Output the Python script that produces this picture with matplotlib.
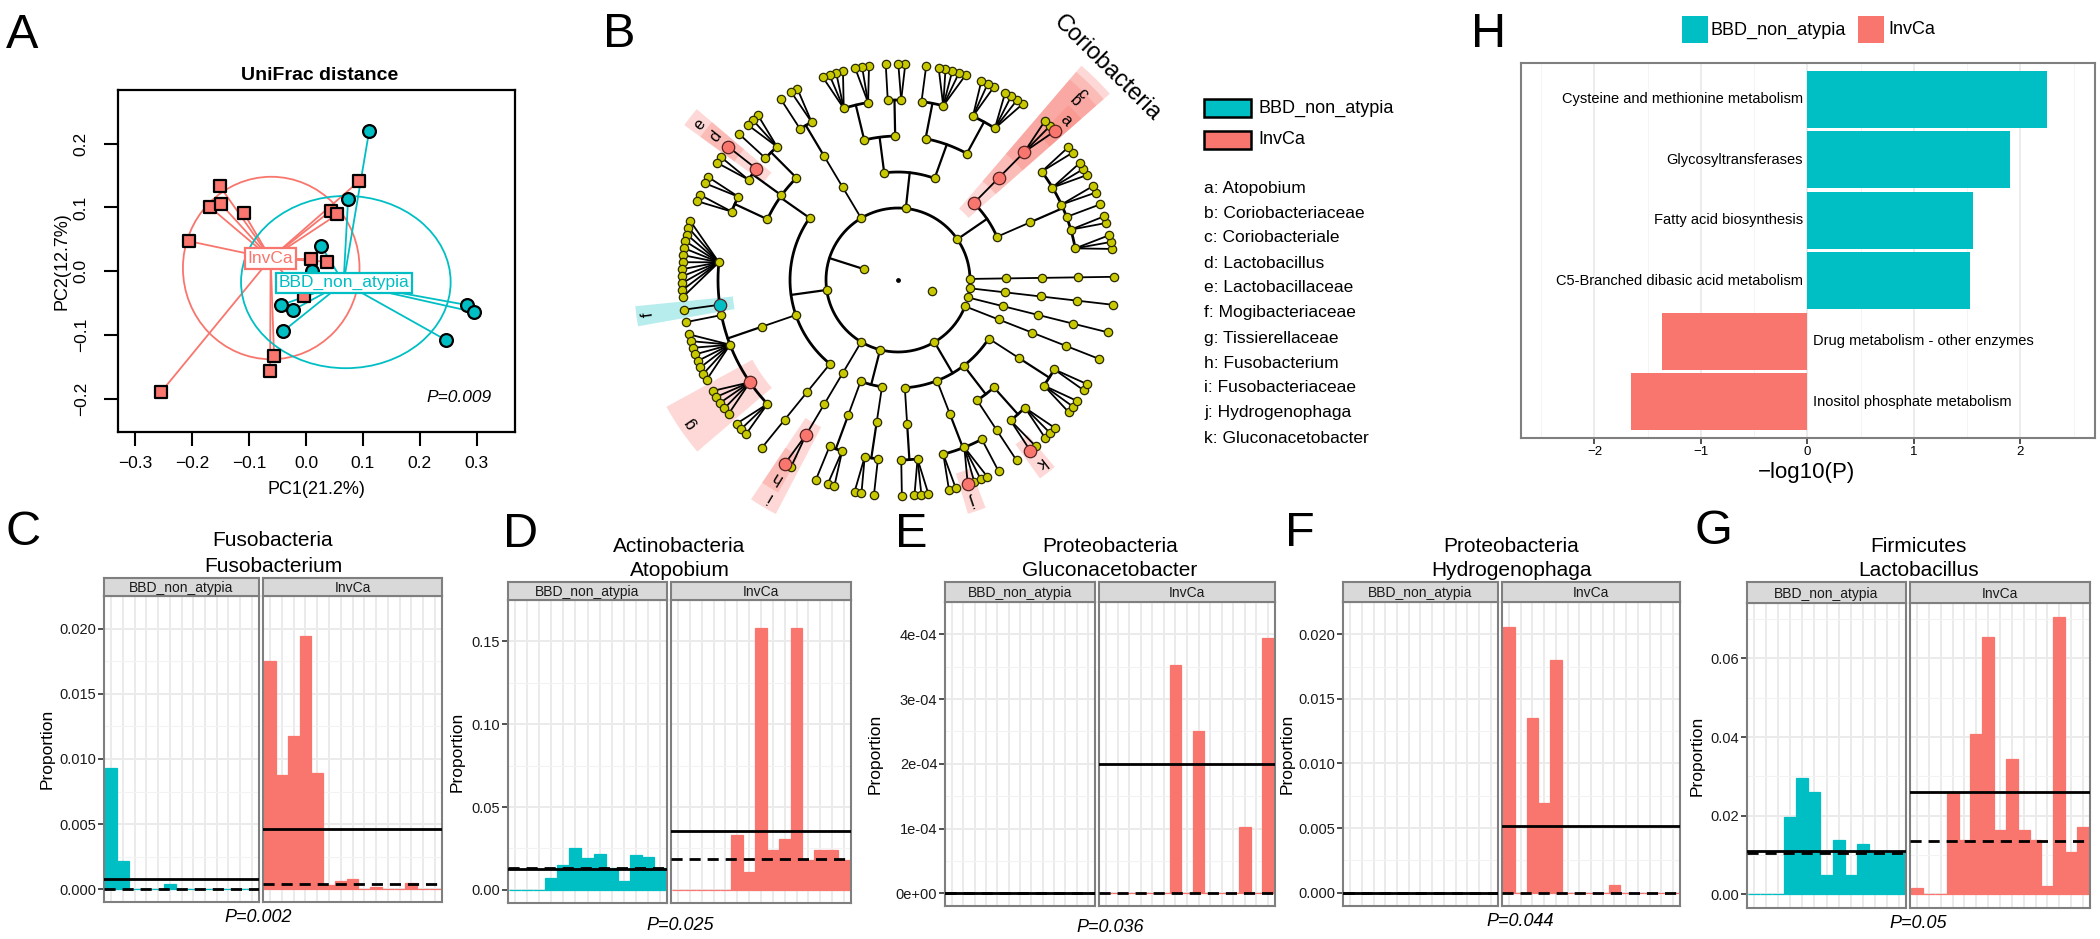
import numpy as np
import matplotlib.pyplot as plt
from matplotlib.patches import Ellipse, Wedge, Rectangle

plt.rcParams['font.family'] = ['Liberation Sans', 'DejaVu Sans']

W, H = 2100, 939
RED = '#F8766D'
TEAL = '#00BFC4'
GRID = '#EBEBEB'
BORDER = '#7F7F7F'

# ---------------- A: PCoA, UniFrac distance
inv_pc1 = [-0.254, -0.205, -0.168, -0.151, -0.149, -0.109, 0.093, 0.044, 0.055, 0.008, 0.037, -0.004, -0.056, -0.063]
inv_pc2 = [-0.189, 0.047, 0.100, 0.133, 0.105, 0.091, 0.141, 0.095, 0.089, 0.019, 0.015, -0.039, -0.133, -0.156]
bbd_pc1 = [0.111, 0.074, 0.027, -0.043, -0.023, -0.040, 0.283, 0.295, 0.246, 0.011]
bbd_pc2 = [0.220, 0.113, 0.039, -0.053, -0.061, -0.094, -0.053, -0.064, -0.108, 0.000]
centroids = {'InvCa': (-0.062, 0.020), 'BBD_non_atypia': (0.066, -0.018)}
ellipses = {'InvCa': (-0.061, 0.005, 0.310, 0.286), 'BBD_non_atypia': (0.070, -0.017, 0.368, 0.270)}

# ---------------- B: cladogram (phylum -> class -> order -> family = number of genera)
clado_tree = [
    [[[1]]],
    [[[1]]],
    [[[1]]],
    [[[3, 2, 1, 2, 3, 2]], [[3]]],                        # Actinobacteria
    [[[4, 3], [5, 1]], [[2, 1], [3, 4]]],                 # Bacteroidetes
    [[[2, 1]]],
    [[[3, 1], [1, 2], [2, 2]], [[12, 1, 1, 8, 5, 3]], [[1]]],   # Firmicutes
    [[[2]]],                                              # Fusobacteria
    [[[1, 2]], [[2, 1]]],
    [[[1, 3]], [[2, 4, 1]], [[1], [2, 3]], [[3, 2]]],     # Proteobacteria
    [[[1]]],
]
# letter, path in tree, enriched group
highlights = [
    ('Coriobacteria', (3, 1), 'InvCa'),
    ('c', (3, 1, 0), 'InvCa'),
    ('b', (3, 1, 0, 0), 'InvCa'),
    ('a', (3, 1, 0, 0, 0), 'InvCa'),
    ('e', (6, 0, 1, 0), 'InvCa'),
    ('d', (6, 0, 1, 0, 0), 'InvCa'),
    ('f', (6, 1, 0, 1), 'BBD_non_atypia'),
    ('g', (6, 1, 0, 4), 'InvCa'),
    ('i', (7, 0, 0, 0), 'InvCa'),
    ('h', (7, 0, 0, 0, 0), 'InvCa'),
    ('j', (9, 1, 0, 1, 0), 'InvCa'),
    ('k', (9, 2, 1, 0, 0), 'InvCa'),
]
clado_keys = ['a: Atopobium', 'b: Coriobacteriaceae', 'c: Coriobacteriale', 'd: Lactobacillus',
              'e: Lactobacillaceae', 'f: Mogibacteriaceae', 'g: Tissierellaceae', 'h: Fusobacterium',
              'i: Fusobacteriaceae', 'j: Hydrogenophaga', 'k: Gluconacetobacter']

# ---------------- C-G: relative abundance per sample
c_bbd = [0.0093, 0.0022, 0, 0, 0, 0.0004, 0, 0, 0, 0, 0, 0, 0]
c_inv = [0.0175, 0.0088, 0.0118, 0.0194, 0.0089, 0.0003, 0.00066, 0.0008, 0.00005, 0.0002,
         0.00005, 0.00005, 0.0005, 0.00005, 0.00005]
d_bbd = [0, 0, 0, 0.0073, 0.0149, 0.0254, 0.019, 0.0214, 0.0135, 0.0053, 0.0212, 0.020, 0.0135]
d_inv = [0, 0, 0, 0, 0, 0.033, 0.011, 0.158, 0.024, 0.0305, 0.158, 0.018, 0.024, 0.024, 0.018]
e_bbd = [0] * 13
e_inv = [0, 0, 0, 0, 0, 0, 3.52e-4, 0, 2.5e-4, 0, 0, 0, 1.03e-4, 0, 3.94e-4]
f_bbd = [0] * 13
f_inv = [0.0206, 0, 0.01356, 0.00694, 0.0180, 0, 0, 0, 0, 0.00057, 0, 0, 0, 0, 0]
g_bbd = [0, 0, 0, 0.0197, 0.0295, 0.0261, 0.00485, 0.0138, 0.00485, 0.0127, 0.0104, 0.0104, 0.0104]
g_inv = [0.00145, 0.0001, 0.0001, 0.0259, 0.0138, 0.0408, 0.0654, 0.0163, 0.0344, 0.0163,
         0.0138, 0.0021, 0.0706, 0.0108, 0.0172]
# (BBD, InvCa) mean and median lines
c_mean, c_median = (0.00082, 0.00465), (0.0, 0.0004)
d_mean, d_median = (0.0124, 0.0355), (0.0134, 0.0187)
e_mean, e_median = (0.0, 2.0e-4), (0.0, 0.0)
f_mean, f_median = (0.0, 0.00513), (0.0, 0.0)
g_mean, g_median = (0.0111, 0.026), (0.0106, 0.0136)

# ---------------- H: KEGG pathways
h_paths = ['Cysteine and methionine metabolism', 'Glycosyltransferases', 'Fatty acid biosynthesis',
           'C5-Branched dibasic acid metabolism', 'Drug metabolism - other enzymes',
           'Inositol phosphate metabolism']
h_logp = [2.25, 1.90, 1.55, 1.53, -1.37, -1.66]

fig = plt.figure(figsize=(W / 100, H / 100), dpi=100)


def px_axes(x0, y0, x1, y1):
    return fig.add_axes([x0 / W, 1 - y1 / H, (x1 - x0) / W, (y1 - y0) / H])


def ftext(x, y, s, **kw):
    fig.text(x / W, 1 - y / H, s, **kw)


def frect(x0, y0, x1, y1, **kw):
    fig.add_artist(Rectangle((x0 / W, 1 - y1 / H), (x1 - x0) / W, (y1 - y0) / H,
                             transform=fig.transFigure, **kw))


def letter(x, y, s):
    ftext(x, y, s, fontsize=35, ha='center', va='baseline')


# ======== A
ax = px_axes(118, 90, 515, 432)
groups = [('InvCa', inv_pc1, inv_pc2, RED, 's', 75), ('BBD_non_atypia', bbd_pc1, bbd_pc2, TEAL, 'o', 85)]
for grp, xs, ys, col, mk, sz in groups:
    cx, cy = centroids[grp]
    for x, y in zip(xs, ys):
        ax.plot([cx, x], [cy, y], color=col, lw=1.3, zorder=2)
    ex, ey, ew, eh = ellipses[grp]
    ax.add_patch(Ellipse((ex, ey), ew, eh, fill=False, ec=col, lw=1.3, zorder=2))
for grp, xs, ys, col, mk, sz in groups:
    ax.scatter(xs, ys, marker=mk, s=sz, c=col, edgecolors='black', linewidths=1.6, zorder=3)
for grp, xs, ys, col, mk, sz in groups:
    cx, cy = centroids[grp]
    ax.text(cx, cy, grp, color=col, fontsize=12.5, ha='center', va='center', zorder=5,
            bbox=dict(boxstyle='square,pad=0.15', fc='white', ec=col, lw=1.6))
ax.set_xlim(-0.33, 0.367)
ax.set_ylim(-0.252, 0.284)
ax.set_xticks([-0.3, -0.2, -0.1, 0.0, 0.1, 0.2, 0.3])
ax.set_yticks([-0.2, -0.1, 0.0, 0.1, 0.2])
ax.set_xticklabels(['\u22120.3', '\u22120.2', '\u22120.1', '0.0', '0.1', '0.2', '0.3'])
ax.set_yticklabels(['\u22120.2', '\u22120.1', '0.0', '0.1', '0.2'], rotation=90, va='center')
ax.tick_params(direction='out', length=10, width=1.5, labelsize=12.5, pad=7)
ax.tick_params(axis='y', pad=11)
for s in ax.spines.values():
    s.set_linewidth(1.6)
ax.text(0.326, -0.198, 'P=0.009', style='italic', fontsize=12.5, ha='right', va='center')
ftext(320, 76, 'UniFrac distance', fontsize=14, fontweight='bold', ha='center', va='center')
ftext(316, 489, 'PC1(21.2%)', fontsize=13, ha='center', va='center')
ftext(62, 261, 'PC2(12.7%)', fontsize=13, ha='center', va='center', rotation=90)
letter(22, 48, 'A')

# ======== B: cladogram
R = [0, 36, 72, 108, 144, 180, 216]
gap_units = [4.0, 3.0, 2.4, 1.8, 1.0]   # by shared path length between neighbouring leaves
leaves = []
nodes = {}


def build(item, level, path):
    if level == 6:
        kids = []
    elif level == 5:
        kids = [build(None, 6, path + (i,)) for i in range(item)]
    else:
        kids = [build(k, level + 1, path + (i,)) for i, k in enumerate(item)]
    node = {'level': level, 'path': path, 'kids': kids}
    if not kids:
        node['leaf'] = len(leaves)
        leaves.append(path)
    nodes[path] = node
    return node


root = build(clado_tree, 1, ())


def shared(a, b):
    n = 0
    for u, v in zip(a, b):
        if u != v:
            break
        n += 1
    return n


pos = [0.0]
for p0, p1 in zip(leaves[:-1], leaves[1:]):
    pos.append(pos[-1] + gap_units[min(shared(p0, p1), 4)])
total = pos[-1] + gap_units[0]
leaf_ang = [-14 + 360 * p / total for p in pos]


def set_angles(node):
    if 'leaf' in node:
        node['ang'] = node['a0'] = node['a1'] = leaf_ang[node['leaf']]
    else:
        for k in node['kids']:
            set_angles(k)
        node['ang'] = 0.5 * (node['kids'][0]['ang'] + node['kids'][-1]['ang'])
        node['a0'] = node['kids'][0]['a0']
        node['a1'] = node['kids'][-1]['a1']


set_angles(root)

axb = px_axes(598, 0, 1198, 540)
axb.set_xlim(-300, 300)
axb.set_ylim(-260, 280)
axb.axis('off')


def pol(r, t):
    return r * np.cos(np.radians(t)), r * np.sin(np.radians(t))


dots = []


def draw(node):
    r, t = R[node['level']], node['ang']
    kids = node['kids']
    if kids:
        rk = R[node['level'] + 1]
        if node['level'] == 5 or len(kids) == 1:
            for k in kids:
                (x0, y0), (x1, y1) = pol(r, t), pol(rk, k['ang'])
                axb.plot([x0, x1], [y0, y1], color='black', lw=1.3, zorder=2)
        else:
            (x0, y0), (x1, y1) = pol(r, t), pol(rk, t)
            axb.plot([x0, x1], [y0, y1], color='black', lw=1.6, zorder=2)
            tt = np.linspace(kids[0]['ang'], kids[-1]['ang'], 200)
            ax_, ay_ = pol(rk, tt)
            axb.plot(ax_, ay_, color='black', lw=2.0, zorder=2)
        for k in kids:
            draw(k)
    dots.append(pol(r, t))


draw(root)
ang0 = root['ang'] + 180
dots.append(pol(R[1], ang0))
dx, dy = zip(*dots)
axb.scatter(dx, dy, s=36, c='#C8C800', edgecolors='#2A2A00', linewidths=0.9, zorder=3)
axb.scatter([0], [0], s=6, c='black', zorder=3)

letter_r = {3: 297, 4: 262, 5: 252, 6: 232}
for lab, path, grp in sorted(highlights, key=lambda h: len(h[1])):
    nd = nodes[path]
    col = RED if grp == 'InvCa' else TEAL
    lv = nd['level']
    r_out = letter_r[lv] + 12 if lv > 3 else 282
    r_in = R[lv] - 14
    axb.add_patch(Wedge((0, 0), r_out, nd['a0'] - 2.2, nd['a1'] + 2.2, width=r_out - r_in,
                        fc=col, ec='none', alpha=0.28, zorder=1))
    x, y = pol(R[lv], nd['ang'])
    axb.scatter([x], [y], s=80, c=col, edgecolors='#552222', linewidths=0.9, zorder=4)
    lx, ly = pol(letter_r[lv], nd['ang'])
    axb.text(lx, ly, lab, fontsize=17 if lv == 3 else 12, ha='center', va='center',
             rotation=nd['ang'] - 90, rotation_mode='anchor', zorder=5)
letter(619, 47, 'B')

# legend of B
frect(1204, 99, 1251, 117, fc=TEAL, ec='black', lw=1.8)
frect(1204, 131, 1251, 149, fc=RED, ec='black', lw=1.8)
ftext(1258, 108, 'BBD_non_atypia', fontsize=13, ha='left', va='center')
ftext(1258, 140, 'InvCa', fontsize=13, ha='left', va='center')
for i, s in enumerate(clado_keys):
    ftext(1204, 188 + 25 * i, s, fontsize=12.5, ha='left', va='center')

# ======== H: pathways
axh = px_axes(1521, 63, 2095, 438)
yy = np.arange(len(h_paths))[::-1]
axh.barh(yy, h_logp, height=0.94, color=[TEAL if v > 0 else RED for v in h_logp], zorder=2)
for y, v, s in zip(yy, h_logp, h_paths):
    if v > 0:
        axh.text(-0.04, y, s, ha='right', va='center', fontsize=10.5, zorder=3)
    else:
        axh.text(0.05, y, s, ha='left', va='center', fontsize=10.5, zorder=3)
axh.set_xlim(-2.69, 2.70)
axh.set_ylim(-0.6, len(h_paths) - 0.4)
axh.set_yticks([])
axh.set_xticks([-2, -1, 0, 1, 2])
axh.set_xticks([-2.5, -1.5, -0.5, 0.5, 1.5, 2.5], minor=True)
axh.grid(True, which='major', axis='x', color=GRID, lw=1.3, zorder=0)
axh.grid(True, which='minor', axis='x', color='#F4F4F4', lw=0.7, zorder=0)
axh.tick_params(axis='x', which='major', length=4, width=1.2, color='#333333', labelsize=9.5, pad=2)
axh.tick_params(axis='x', which='minor', length=0)
for s in axh.spines.values():
    s.set_color(BORDER)
    s.set_linewidth(1.5)
ftext(1807, 473, '\u2212log10(P)', fontsize=16, ha='center', va='center')
letter(1489, 47, 'H')
frect(1682, 16, 1708, 43, fc=TEAL, ec='none')
frect(1858, 16, 1884, 43, fc=RED, ec='none')
ftext(1711, 30, 'BBD_non_atypia', fontsize=13, ha='left', va='center')
ftext(1888, 30, 'InvCa', fontsize=13, ha='left', va='center')

# ======== C-G: per-sample bar plots
layouts = [
    dict(let='C', lxy=(23, 545), titles=('Fusobacteria', 'Fusobacterium'), ty=(540, 566),
         xs=(104, 259, 263, 442), st=578, pt=596, pb=902, data=(c_bbd, c_inv), mean=c_mean, med=c_median,
         ticks=[0, 0.005, 0.010, 0.015, 0.020], fmt='{:.3f}', ylx=47, p='P=0.002', pxy=(258, 918)),
    dict(let='D', lxy=(521, 547), titles=('Actinobacteria', 'Atopobium'), ty=(546, 570),
         xs=(508, 667, 671, 851), st=582, pt=600, pb=903, data=(d_bbd, d_inv), mean=d_mean, med=d_median,
         ticks=[0, 0.05, 0.10, 0.15], fmt='{:.2f}', ylx=457, p='P=0.025', pxy=(680, 925)),
    dict(let='E', lxy=(911, 547), titles=('Proteobacteria', 'Gluconacetobacter'), ty=(546, 571),
         xs=(945, 1095, 1099, 1275), st=582, pt=602, pb=906, data=(e_bbd, e_inv), mean=e_mean, med=e_median,
         ticks=[0, 1e-4, 2e-4, 3e-4, 4e-4], fmt='{:.0e}', ylx=875, p='P=0.036', pxy=(1110, 927)),
    dict(let='F', lxy=(1300, 546), titles=('Proteobacteria', 'Hydrogenophaga'), ty=(546, 571),
         xs=(1343, 1498, 1502, 1680), st=582, pt=602, pb=906, data=(f_bbd, f_inv), mean=f_mean, med=f_median,
         ticks=[0, 0.005, 0.010, 0.015, 0.020], fmt='{:.3f}', ylx=1287, p='P=0.044', pxy=(1520, 922)),
    dict(let='G', lxy=(1713, 544), titles=('Firmicutes', 'Lactobacillus'), ty=(546, 571),
         xs=(1747, 1906, 1910, 2090), st=582, pt=603, pb=908, data=(g_bbd, g_inv), mean=g_mean, med=g_median,
         ticks=[0, 0.02, 0.04, 0.06], fmt='{:.2f}', ylx=1697, p='P=0.05', pxy=(1918, 923)),
]
strip_names = ['BBD_non_atypia', 'InvCa']
for L in layouts:
    ymax = max(max(L['data'][0]), max(L['data'][1]))
    ylim = (-0.05 * ymax, 1.05 * ymax)
    step = L['ticks'][1]
    minor = [t + step / 2 for t in L['ticks']]
    for j in range(2):
        x0, x1 = L['xs'][2 * j], L['xs'][2 * j + 1]
        vals = L['data'][j]
        col = TEAL if j == 0 else RED
        a = px_axes(x0, L['pt'], x1, L['pb'])
        n = len(vals)
        a.bar(np.arange(n), vals, width=1.0, color=col, edgecolor=col, linewidth=0.9, zorder=2)
        a.axhline(L['mean'][j], color='black', lw=2.0, zorder=3)
        a.axhline(L['med'][j], color='black', lw=2.0, ls=(0, (4, 2.5)), zorder=3)
        a.set_xlim(-0.6, n - 0.4)
        a.set_ylim(*ylim)
        a.set_xticks(np.arange(n))
        a.set_yticks(L['ticks'])
        a.set_yticks(minor, minor=True)
        a.grid(True, which='major', color=GRID, lw=1.4, zorder=0)
        a.grid(True, which='minor', axis='y', color='#F3F3F3', lw=0.8, zorder=0)
        a.set_axisbelow(True)
        a.tick_params(axis='x', length=0, labelbottom=False)
        a.tick_params(axis='y', which='minor', length=0)
        if j == 0:
            a.set_yticklabels([L['fmt'].format(t) for t in L['ticks']])
            a.tick_params(axis='y', length=4, width=1.2, color='#333333', labelsize=10.5,
                          labelcolor='#1A1A1A', pad=1.5)
        else:
            a.tick_params(axis='y', length=0, labelleft=False)
        for s in a.spines.values():
            s.set_color(BORDER)
            s.set_linewidth(1.5)
        sa = px_axes(x0, L['st'], x1, L['pt'])
        sa.set_facecolor('#D9D9D9')
        sa.set_xticks([])
        sa.set_yticks([])
        for s in sa.spines.values():
            s.set_color(BORDER)
            s.set_linewidth(1.5)
        sa.text(0.5, 0.45, strip_names[j], transform=sa.transAxes, ha='center', va='center',
                fontsize=10, color='#1A1A1A')
    xc = 0.5 * (L['xs'][0] + L['xs'][3])
    ftext(xc, L['ty'][0], L['titles'][0], fontsize=15, ha='center', va='center')
    ftext(xc, L['ty'][1], L['titles'][1], fontsize=15, ha='center', va='center')
    ftext(L['ylx'], 0.5 * (L['pt'] + L['pb']), 'Proportion', fontsize=12.5, rotation=90,
          ha='center', va='center')
    ftext(L['pxy'][0], L['pxy'][1], L['p'], fontsize=13, style='italic', ha='center', va='center')
    letter(L['lxy'][0], L['lxy'][1], L['let'])

fig.savefig('out.png', dpi=100)
